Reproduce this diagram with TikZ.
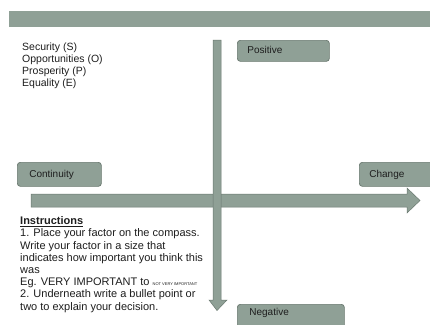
\documentclass[tikz,border=0pt]{standalone}
\usepackage{fontspec}
\setmainfont{Liberation Sans}
\definecolor{sage}{RGB}{143,160,150}
\definecolor{sageline}{RGB}{105,120,111}
\definecolor{ink}{RGB}{30,30,30}
\tikzset{
  tag/.style={draw=sageline, fill=sage, rounded corners=3pt, line width=0.7pt,
    anchor=north west, align=left, text=ink, inner xsep=0pt, inner ysep=0pt,
    font=\fontsize{10}{12}\selectfont},
  axis/.style={fill=sage, draw=sageline, line width=0.5pt},
  plain/.style={anchor=north west, align=left, inner sep=0pt, text=ink}
}
\begin{document}
\begin{tikzpicture}[x=1pt,y=-1pt]
\useasboundingbox (0,0) rectangle (430,324);
\clip (0,0) rectangle (430,324);
\fill[white] (0,0) rectangle (430,324);

% title banner
\fill[sage] (9,11) rectangle (431,27);

% factor list
\node[plain, font=\fontsize{10.5}{12}\selectfont] (factors) at (22,42.5)
  {Security (S)\\Opportunities (O)\\Prosperity (P)\\Equality (E)};

% horizontal axis: continuity to change
\draw[axis] (31,194) -- (407,194) -- (407,188) -- (420,200.5) -- (407,213)
  -- (407,207) -- (31,207) -- cycle;

% vertical axis: positive to negative
\draw[axis] (213,40) -- (221,40) -- (221,300) -- (227,300) -- (217,310.5)
  -- (209,300) -- (213,300) -- cycle;

% axis labels
\node[tag, minimum width=82pt, minimum height=21pt, text width=72pt,
  inner xsep=10pt, text height=7.5pt, text depth=2pt] (pos) at (237,40) {Positive};
\node[tag, minimum width=72pt, minimum height=24pt, text width=60pt,
  inner xsep=12pt, text height=7.5pt, text depth=2pt] (cont) at (17,162) {Continuity};
\node[tag, minimum width=80pt, minimum height=24pt, text width=70pt,
  inner xsep=10pt, text height=7.5pt, text depth=2pt] (chg) at (359,162) {Change};
\node[tag, minimum width=95pt, text width=83pt, inner xsep=12pt, inner ysep=4pt,
  text height=7.5pt, text depth=22pt] (neg) at (237,304) {Negative};

% instructions
\node[plain, font=\fontsize{11}{12.2}\selectfont] (instr) at (20,216.5)
  {\underline{\textbf{Instructions}}\\
   1. Place your factor on the compass.\\
   Write your factor in a size that\\
   indicates how important you think this\\
   was\\
   Eg. VERY IMPORTANT to {\fontsize{4}{4}\selectfont NOT VERY IMPORTANT}\\
   2. Underneath write a bullet point or\\
   two to explain your decision.};
\end{tikzpicture}
\end{document}
